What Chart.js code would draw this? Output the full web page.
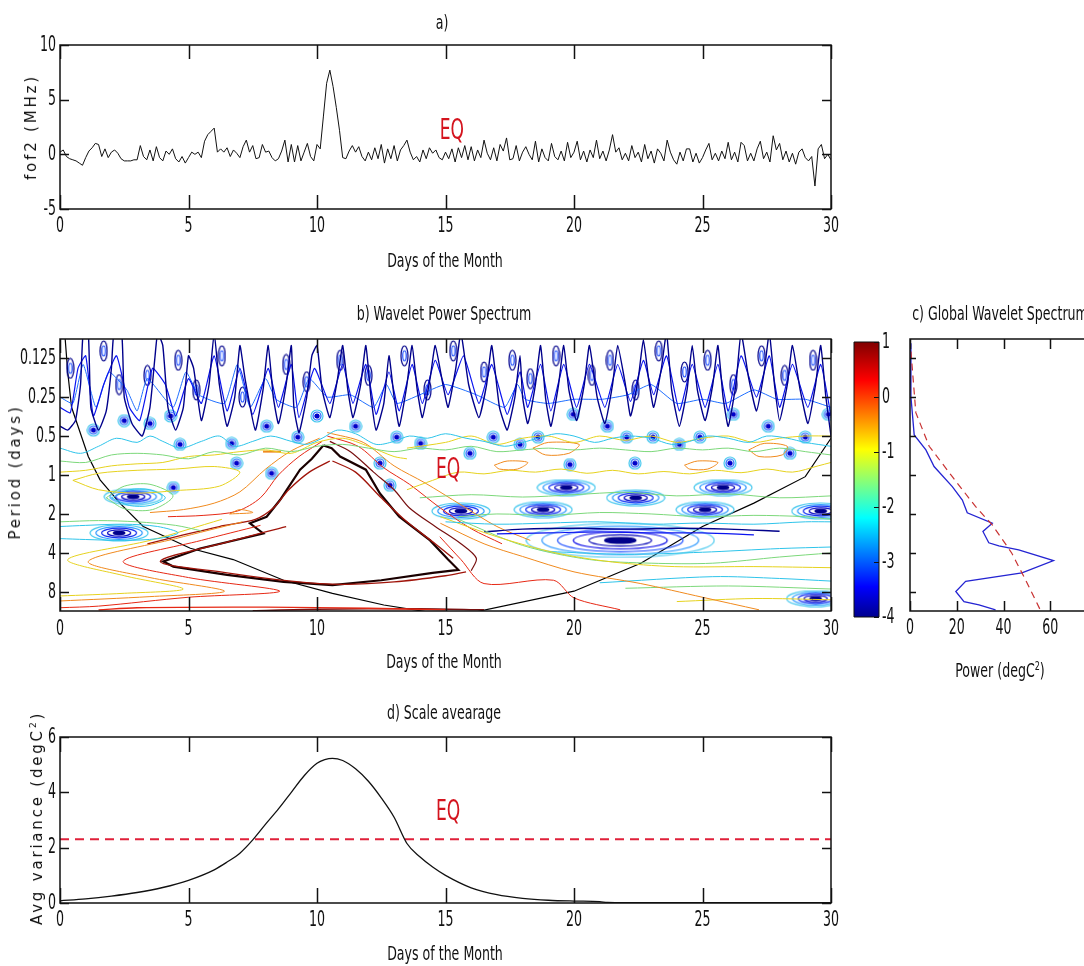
<!DOCTYPE html>
<html>
<head>
<meta charset="utf-8">
<script src="https://cdn.jsdelivr.net/npm/chart.js@4.4.1/dist/chart.umd.min.js"></script>
<style>
html, body { margin: 0; padding: 0; background: #fff; width: 1084px; height: 966px; overflow: hidden; position: relative; }
.box { position: absolute; }
.txt { position: absolute; white-space: nowrap; font-family: "Liberation Sans Narrow", "Arial Narrow", "DejaVu Sans Condensed", sans-serif; font-size: 14px; color: #111; transform: translate(-50%, -50%) scaleY(1.35); }
.ylab { position: absolute; white-space: nowrap; font-family: "DejaVu Sans", sans-serif; font-size: 15px; letter-spacing: 2.8px; color: #111; transform: translate(-50%, -50%) rotate(-90deg); }
sup { font-size: 9px; }
</style>
</head>
<body>
<div class="box" style="left:0px;top:0px"><canvas id="cA" width="870" height="280"></canvas></div>
<div class="box" style="left:0px;top:290px"><canvas id="cB" width="870" height="400"></canvas></div>
<div class="box" style="left:840px;top:330px"><canvas id="cBar" width="70" height="300"></canvas></div>
<div class="box" style="left:895px;top:290px"><canvas id="cC" width="220" height="400"></canvas></div>
<div class="box" style="left:0px;top:690px"><canvas id="cD" width="870" height="276"></canvas></div>

<div class="txt" style="left:442px;top:22px">a)</div>
<div class="txt" style="left:445px;top:260px">Days of the Month</div>
<div class="txt" style="left:444px;top:313px">b) Wavelet Power Spectrum</div>
<div class="txt" style="left:444px;top:661px">Days of the Month</div>
<div class="txt" style="left:1000px;top:313px">c) Global Wavelet Spectrum</div>
<div class="txt" style="left:1000px;top:670px">Power (degC<sup>2</sup>)</div>
<div class="txt" style="left:444px;top:712px">d) Scale avearage</div>
<div class="txt" style="left:445px;top:953px">Days of the Month</div>
<div class="ylab" style="left:31px;top:127px">fof2 (MHz)</div>
<div class="ylab" style="left:15px;top:472px">Period (days)</div>
<div class="ylab" style="left:37px;top:818px">Avg variance (degC<sup>2</sup>)</div>

<script>
// tick labels
const dayTicks = [0, 5, 10, 15, 20, 25, 30];
const fofTicks = [-5, 0, 5, 10];
const periodTicks = [0.125, 0.25, 0.5, 1, 2, 4, 8];
const powerTicks = [0, 20, 40, 60, 80];
const cbarTicks = [1, 0, -1, -2, -3, -4];
const avgTicks = [0, 2, 4, 6];

// a) fof2 deviation, one value every 3 hours (0.125 day)
const fofStep = 0.125;
const fof2 = [
  0.2, 0.4, -0.2, -0.4, -0.5, -0.6, -0.8, -1.0,
  -0.3, 0.3, 0.6, 1.0, 0.9, -0.2, 0.5, -0.3,
  0.2, 0.4, 0.1, -0.4, -0.6, -0.6, -0.6, -0.5,
  -0.5, 0.8, -0.2, -0.5, 0.4, -0.6, 0.7, -0.3,
  -0.6, 0.3, 0.0, 0.5, -0.4, -0.7, -0.2, -0.8,
  -0.3, 0.2, 0.0, 0.2, -0.3, 1.2, 1.8, 2.1,
  2.4, 0.2, 0.5, 0.2, 0.6, -0.2, 0.4, 0.1,
  -0.3, 0.7, 1.3, 0.2, 0.8, -0.4, -0.3, 0.9,
  0.2, 0.3, -0.3, -0.6, -0.4, 0.3, 1.3, -0.7,
  0.9, -0.7, 0.8, -0.6, 0.2, 1.0, -0.2, -0.6,
  0.9, 0.5, 3.5, 6.5, 7.7, 6.2, 4.3, 2.2,
  -0.3, -0.4, 0.3, 0.8, 0.2, 0.7, -0.2, -0.6,
  0.2, -0.5, 0.6, -0.4, 0.9, -0.8, 0.5, -0.4,
  0.8, -0.6, 0.4, 0.8, 1.3, 0.2, -0.5, -0.2,
  -0.7, 0.4, -0.4, 0.6, 0.1, 0.4, -0.3, -0.5,
  0.2, -0.4, 0.5, -0.7, 0.6, -0.3, 0.8, -0.5,
  0.7, -0.6, 0.4, -0.3, 1.3, 0.1, -0.5, 0.6,
  -0.6, 0.9, 0.3, 1.5, -0.5, -0.4, 0.8, -0.6,
  0.2, 0.7, 0.0, -0.5, 1.2, -0.7, 0.5, -0.3,
  -0.6, 1.0, -0.2, -0.5, 0.3, -0.6, 1.1, -0.3,
  0.2, 1.2, -0.5, 0.3, -0.7, 0.4, -0.3, 1.3,
  -0.4, 0.3, -0.6, 0.4, 1.8, 0.2, 0.6, -0.5,
  0.1, -0.6, 0.8, -0.3, 0.2, -0.7, 0.9, -0.4,
  0.3, -0.8, 0.5, 0.1, -0.6, 1.3, 0.2, -0.5,
  -0.9, 0.2, -0.6, 0.5, 0.5, -0.7, 0.1, -0.8,
  -0.3, 0.4, 1.0, -0.5, 0.1, -0.6, 0.3, -0.4,
  1.1, -0.5, 0.2, -0.7, 1.1, 0.8, -0.6, 0.1,
  -0.6, 0.5, 1.2, -0.4, 0.2, -0.7, 1.7, 0.4,
  1.0, -0.5, 0.3, -0.7, 0.1, -0.9, 0.2, 0.5,
  -0.3, -0.6, -0.2, -2.9, 0.5, 0.9, -0.4, 0.0,
  -0.5
];

// b) wavelet power contours, [day, period in days]
const navyFingers = [[0,0.42],[0.3,0.45],[0.6,0.38],[0.8,0.2],[0.9,0.08],[1.1,0.08],[1.2,0.3],[1.5,0.45],[1.8,0.32],[2.0,0.15],[2.1,0.08],[2.4,0.08],[2.5,0.25],[2.8,0.4],[3.2,0.5],[3.5,0.3],[3.7,0.12],[3.8,0.08],[4.0,0.1],[4.2,0.3],[4.5,0.45],[4.8,0.3],[5.0,0.12],[5.2,0.15],[5.5,0.38],[5.8,0.2],[6.0,0.08],[6.2,0.2],[6.5,0.42],[6.8,0.25],[7.0,0.1],[7.2,0.18],[7.6,0.45],[7.9,0.22],[8.1,0.1],[8.3,0.25],[8.5,0.4],[8.8,0.2],[9.0,0.1],[9.1,0.3],[9.3,0.47],[9.6,0.25],[9.8,0.12],[10.0,0.1],[10.2,0.22],[10.5,0.36],[10.8,0.18],[11.0,0.1],[11.2,0.22],[11.4,0.36],[11.7,0.2],[11.9,0.1],[12.1,0.25],[12.3,0.45],[12.6,0.28],[12.8,0.12],[13.0,0.25],[13.2,0.42],[13.5,0.2],[13.7,0.1],[13.9,0.22],[14.1,0.36],[14.4,0.18],[14.6,0.1],[14.9,0.2],[15.1,0.3],[15.4,0.15],[15.6,0.08],[15.9,0.2],[16.3,0.36],[16.6,0.2],[16.8,0.1],[17.1,0.3],[17.4,0.45],[17.7,0.25],[17.9,0.12],[18.0,0.25],[18.2,0.4],[18.5,0.2],[18.7,0.1],[18.9,0.26],[19.1,0.42],[19.4,0.2],[19.6,0.1],[19.8,0.22],[20.1,0.38],[20.4,0.2],[20.6,0.1],[20.9,0.25],[21.2,0.4],[21.5,0.2],[21.7,0.1],[22.0,0.2],[22.2,0.35],[22.5,0.18],[22.7,0.09],[22.9,0.18],[23.1,0.3],[23.4,0.15],[23.6,0.08],[23.8,0.22],[24.1,0.42],[24.4,0.22],[24.6,0.1],[24.8,0.22],[25.1,0.38],[25.4,0.2],[25.6,0.1],[25.8,0.25],[26.0,0.42],[26.3,0.2],[26.5,0.08],[26.8,0.18],[27.1,0.32],[27.4,0.16],[27.6,0.08],[27.8,0.2],[28.0,0.38],[28.3,0.2],[28.5,0.1],[28.8,0.22],[29.1,0.4],[29.4,0.2],[29.6,0.1],[29.8,0.25],[30,0.5]];
const blueFingers = [[0,0.3],[0.4,0.33],[0.7,0.15],[1.0,0.12],[1.3,0.35],[1.7,0.2],[2.2,0.12],[2.7,0.3],[3.1,0.38],[3.6,0.15],[4.1,0.2],[4.5,0.35],[5.0,0.18],[5.5,0.28],[6.0,0.12],[6.5,0.32],[7.0,0.15],[7.5,0.34],[8.1,0.15],[8.5,0.3],[9.0,0.14],[9.3,0.36],[9.9,0.15],[10.5,0.28],[11.0,0.14],[11.4,0.28],[11.9,0.14],[12.3,0.34],[12.8,0.16],[13.2,0.32],[13.7,0.14],[14.1,0.28],[14.6,0.13],[15.1,0.24],[15.7,0.12],[16.3,0.28],[16.8,0.14],[17.4,0.34],[17.9,0.16],[18.2,0.3],[18.7,0.14],[19.1,0.32],[19.6,0.14],[20.1,0.3],[20.6,0.14],[21.2,0.3],[21.7,0.14],[22.2,0.27],[22.7,0.13],[23.1,0.24],[23.6,0.12],[24.1,0.32],[24.6,0.14],[25.1,0.3],[25.6,0.14],[26.0,0.32],[26.5,0.12],[27.1,0.25],[27.6,0.12],[28.0,0.3],[28.5,0.14],[29.1,0.3],[29.6,0.14],[30,0.35]];
const midFingers = [[0,0.25],[0.5,0.28],[0.9,0.14],[1.4,0.3],[1.9,0.16],[2.6,0.22],[3.0,0.32],[3.4,0.18],[4.4,0.3],[4.9,0.16],[5.4,0.24],[6.4,0.28],[6.9,0.14],[7.4,0.3],[8.0,0.18],[8.4,0.26],[9.2,0.3],[9.7,0.18],[10.4,0.25],[11.3,0.24],[12.2,0.3],[12.7,0.2],[13.1,0.28],[14.0,0.24],[15.0,0.2],[16.2,0.24],[17.3,0.3],[17.8,0.2],[18.1,0.26],[19.0,0.28],[20.0,0.26],[21.1,0.26],[22.1,0.24],[23.0,0.2],[24.0,0.28],[25.0,0.26],[25.9,0.28],[27.0,0.22],[27.9,0.26],[29.0,0.26],[30,0.3]];
const cyanBand = [[0,0.62],[0.8,0.68],[1.5,0.6],[2.2,0.52],[3.0,0.56],[3.5,0.5],[4.0,0.55],[4.7,0.62],[5.5,0.55],[6.2,0.5],[6.8,0.6],[7.5,0.55],[8.2,0.5],[9.0,0.55],[9.6,0.58],[10.2,0.52],[10.8,0.45],[11.5,0.48],[12.3,0.58],[13.0,0.55],[13.6,0.5],[14.3,0.52],[15.0,0.48],[15.8,0.52],[16.5,0.55],[17.3,0.6],[18.0,0.56],[18.6,0.52],[19.3,0.48],[20.0,0.5],[20.8,0.56],[21.5,0.52],[22.2,0.5],[23.0,0.52],[23.8,0.58],[24.5,0.55],[25.2,0.5],[26.0,0.52],[26.8,0.56],[27.5,0.5],[28.3,0.52],[29.0,0.56],[30,0.6]];
const greenBand = [[0,0.78],[1.0,0.8],[2.0,0.7],[3.0,0.68],[4.0,0.7],[5.0,0.75],[6.0,0.66],[7.0,0.7],[8.0,0.62],[9.0,0.66],[10.0,0.6],[11.0,0.58],[12.0,0.62],[13.0,0.66],[14.0,0.62],[15.0,0.64],[16.0,0.6],[17.0,0.66],[18.0,0.64],[19.0,0.62],[20.0,0.64],[21.0,0.62],[22.0,0.64],[23.0,0.66],[24.0,0.62],[25.0,0.64],[26.0,0.62],[27.0,0.66],[28.0,0.62],[29.0,0.66],[30,0.7]];
const yellowUpper = [[0,0.95],[1,0.92],[2,0.85],[3,0.82],[4,0.8],[5,0.72],[6,0.7],[7,0.66],[8,0.64],[9,0.68],[10,0.56],[11,0.52],[12,0.6],[13,0.72],[13.5,0.75]];
const yellowRightA = [[13.5,0.62],[15,0.56],[16,0.5],[17,0.58],[18,0.52],[19,0.5],[20,0.56],[21,0.5],[22,0.54],[23,0.5],[24,0.56],[25,0.52],[26,0.5],[27,0.56],[28,0.52],[29,0.5],[30,0.5]];
const yellowRightB = [[13.5,1.3],[14.5,1.1],[15.5,0.95],[16.5,0.98],[17.5,0.92],[18.5,0.95],[19.5,0.9],[20.5,0.97],[21.5,0.92],[22.5,0.98],[23.5,0.94],[24.5,0.98],[25.5,0.92],[26.5,0.96],[27.5,0.9],[28.5,0.95],[29.5,0.85],[30,0.8]];
const greenRight = [[14,1.5],[16,1.42],[18,1.48],[20,1.42],[22,1.36],[24,1.45],[26,1.4],[28,1.5],[30,1.45]];
const greenRight2 = [[15.5,2.1],[17,2.0],[19,2.05],[21,1.95],[23,2.0],[25,2.1],[27,2.05],[29,2.1],[30,2.2]];
const cyanRight = [[15,2.3],[17,2.4],[19,2.35],[21,2.3],[23,2.4],[25,2.35],[27,2.4],[29,2.3],[30,2.3]];
const orangeLoop1 = [[18.4,0.62],[19.0,0.56],[20.2,0.58],[19.8,0.68],[18.9,0.7],[18.4,0.62]];
const orangeLoop2 = [[16.9,0.84],[17.4,0.78],[18.2,0.8],[17.8,0.9],[17.1,0.9],[16.9,0.84]];
const orangeLoop3 = [[24.3,0.84],[24.8,0.78],[25.6,0.8],[25.2,0.9],[24.5,0.9],[24.3,0.84]];
const orangeLoop4 = [[26.8,0.64],[27.4,0.57],[28.3,0.6],[28.1,0.7],[27.2,0.72],[26.8,0.64]];
const orangeDash = [[7.9,0.66],[8.6,0.66]];
const orangeTri = [[6.6,2.0],[7.0,1.85],[7.5,1.95],[6.6,2.0]];
const yellowLoopLeft = [[0.5,1.1],[1.5,0.97],[3,0.92],[4.5,0.9],[6,0.86],[7,0.95],[6.2,1.22],[4.5,1.32],[3,1.38],[1.5,1.3],[0.5,1.1]];
const greenLoopLeft = [[1.8,1.5],[2.5,1.22],[3.5,1.18],[4.4,1.45],[3.6,1.85],[2.5,1.82],[1.8,1.5]];
const cyanLoopLeft = [[2.0,1.5],[2.7,1.3],[3.5,1.3],[4.1,1.5],[3.5,1.72],[2.7,1.72],[2.0,1.5]];
const leftBandGreen = [[0,2.3],[1.5,2.25],[3,2.3],[4.5,2.45],[5.5,2.7]];
const leftBandCyan = [[0,2.5],[1,2.45],[2.5,2.4],[3.8,2.5],[4.6,2.8],[3.8,3.1],[2.5,3.2],[1,3.15],[0,3.1]];
const yellowV = [[6.3,2.2],[3.5,3.2],[0.3,4.5],[2.5,6.0],[4.8,7.6],[2.5,8.2],[0,8.6]];
const orangeV = [[7.1,2.3],[4.5,3.1],[1.1,4.65],[3.5,6.2],[6.4,7.9],[3.5,8.7],[0,9.4]];
const redV = [[7.8,2.45],[5.5,3.2],[2.46,4.65],[5,6.2],[8.55,7.9],[5,8.8],[1.5,10.3],[0,10.6]];
const darkRedV = [[8.8,2.5],[6.5,3.3],[3.9,4.65],[6.5,5.7],[9,6.6],[11,7.0],[13,6.7],[15,6.0],[15.8,5.6]];
const bottomRed = [[1.5,11],[3,10.6],[8,10.5],[12,10.7],[15,11]];
const bottomDarkRed = [[7.5,11.2],[10,10.9],[14,10.8],[16.5,11]];
const redRightLow = [[14.78,3.0],[15.6,4.5],[16.5,6.9],[19.2,6.5],[20,8.9],[21.8,11]];
const orangeRightLow = [[14.8,2.36],[16.5,3.4],[18,4.26],[20,5.6],[22.6,6.9],[25,8.8],[27.2,11]];
const yellowRightLow = [[14.8,2.1],[17,3.0],[19.3,4.0],[21.5,4.7],[23.9,5.1],[27,5.1],[30,5.2]];
const greenRightLow = [[15.5,2.2],[18,3.5],[20.6,4.5],[23,4.8],[25.4,4.8],[28,4.3],[30,4.0]];
const cyanRightLow = [[19,3.9],[22,4.1],[25,3.95],[28,3.7],[30,3.6]];
const cyanRightLow2 = [[21,6.8],[25.4,6.1],[28,6.3],[30,6.6]];
const greenLower2 = [[22,7.5],[26,7.2],[30,7.6]];
const yellowLower2 = [[24,9.5],[27,9.0],[30,9.2]];
const navyBand = [[16.5,2.75],[18,2.62],[20,2.58],[22,2.62],[24,2.58],[26,2.62],[28,2.72]];
const blueBand = [[17,2.85],[19,2.8],[21,2.75],[23,2.8],[25,2.8],[27,2.9]];
const orangeUpperLeft = [[10.1,0.52],[9.0,0.65],[8.0,0.9],[7.0,1.35],[6.0,1.65],[4.8,1.85],[3.5,1.95]];
const redUpperLeft = [[10.2,0.55],[9.3,0.72],[8.5,1.0],[7.8,1.5],[6.9,1.9],[5.6,2.05],[4.2,2.1]];
const orangeRight = [[10.4,0.47],[11.8,0.56],[13.0,0.85],[14.2,1.15],[15.6,1.7],[17,2.5],[18.3,3.2]];
const redRight = [[10.4,0.5],[11.6,0.6],[12.6,0.88],[13.6,1.18],[14.8,1.8],[16.0,2.6],[17.2,3.4]];
const brownRight = [[10.5,0.55],[11.3,0.66],[12.2,0.95],[13.0,1.3],[13.6,1.8],[14.6,2.5],[15.6,3.4],[16.2,4.4],[16.0,5.5]];
const darkRedInnerL = [[10.5,0.78],[9.7,0.95],[8.9,1.3],[8.3,1.8],[7.6,2.2],[6.2,2.5],[4.8,2.9],[3.4,3.4]];
const darkRedInnerR = [[10.6,0.78],[11.5,0.95],[12.5,1.5],[13.5,2.3],[14.6,3.4],[15.3,4.4]];
const blackBlob = [[10.25,0.59],[9.8,0.75],[9.34,0.91],[8.56,1.56],[8.04,2.1],[7.39,2.36],[7.91,2.83],[5.45,3.7],[4.02,4.65],[4.41,5.1],[6.5,5.9],[8.7,6.7],[10.6,7.1],[12.5,6.5],[14.5,5.7],[15.5,5.4],[15.1,4.5],[14.4,3.2],[13.2,2.1],[12.45,1.39],[11.9,0.91],[10.9,0.72],[10.57,0.62],[10.25,0.59]];
const coiLine = [[0.2,0.088],[0.3,0.16],[0.45,0.3],[1.1,0.72],[1.56,1.09],[2.33,1.65],[3.24,2.5],[5.07,3.68],[6.74,4.5],[8.7,6.5],[10.6,8.2],[12.6,10.1],[14.4,11.5],[16.1,11.5],[20,7.9],[22.6,4.8],[25,2.5],[27,1.65],[29,1.03],[30,0.52]];
const eyePts = [[1.3,0.45],[2.5,0.38],[3.5,0.40],[4.3,0.35],[4.67,0.58],[6.68,0.57],[8.04,0.42],[9.25,0.51],[10.0,0.35],[11.5,0.42],[13.1,0.51],[14.03,0.57],[16.86,0.51],[17.9,0.58],[18.6,0.51],[19.97,0.34],[21.3,0.42],[22.05,0.51],[23.07,0.51],[24.1,0.58],[24.9,0.51],[26.2,0.34],[27.56,0.42],[29.0,0.51],[29.9,0.34],[6.87,0.81],[8.23,0.97],[12.45,0.81],[12.84,1.2],[15.95,0.68],[28.4,0.68],[19.84,0.83],[22.37,0.81],[26.07,0.81],[4.41,1.25]];
const loopPts = [[0.4,0.15],[1.7,0.11],[2.3,0.2],[3.4,0.17],[4.6,0.13],[5.3,0.22],[6.3,0.12],[7.1,0.25],[8.8,0.14],[9.6,0.19],[10.9,0.13],[12.0,0.17],[13.4,0.12],[14.3,0.22],[15.3,0.11],[16.5,0.16],[17.6,0.13],[18.3,0.18],[19.3,0.12],[20.7,0.17],[21.4,0.13],[22.4,0.22],[23.3,0.11],[24.3,0.16],[25.2,0.13],[26.2,0.2],[27.3,0.12],[28.2,0.17],[29.3,0.13]];
const lensPts = [[2.85,1.47],[2.3,2.8],[15.6,1.9],[18.8,1.85],[19.7,1.25],[22.4,1.5],[25.1,1.85],[25.8,1.25],[29.6,1.9],[29.4,9.0]];
const bigLensPts = [[21.8,3.2]];

// c) global wavelet spectrum
const gwsPeriod = [0.096, 0.25, 0.49, 0.64, 0.86, 1.23, 1.56, 1.96, 2.36, 2.73, 3.34, 3.53, 3.78, 4.59, 5.70, 6.63, 7.94, 9.51, 10.06, 11.0];
const gwsPower = [0, 0.4, 1.8, 6.8, 10.3, 18.1, 22.4, 24.5, 35.2, 31.2, 33.7, 38, 46.5, 61.4, 47.9, 23.8, 19.6, 23.1, 29.5, 36.6];
const signifPeriod = [0.09, 0.33, 0.6, 1.03, 1.75, 2.43, 4.0, 6.45, 11.0];
const signifPower = [0, 2.5, 8.2, 18.1, 28, 35.2, 43.5, 49.4, 55.7];

// d) scale average
const scaleDays = [0, 1, 2, 3, 4, 5, 6, 6.5, 7, 7.5, 8, 8.5, 9, 9.5, 10, 10.3, 10.6, 11, 11.5, 12, 12.5, 13, 13.5, 14, 14.5, 15, 16, 17, 18, 19, 20, 21, 21.3, 22, 25, 30];
const scaleVals = [0.08, 0.15, 0.25, 0.38, 0.56, 0.82, 1.2, 1.48, 1.8, 2.28, 2.85, 3.4, 4.0, 4.6, 5.05, 5.18, 5.23, 5.15, 4.85, 4.4, 3.8, 3.1, 2.15, 1.67, 1.3, 1.0, 0.55, 0.3, 0.17, 0.1, 0.07, 0.05, 0.02, 0.01, 0.01, 0.01];
const scaleSignif = 2.3;

const FONT = '"Liberation Sans Narrow", "Arial Narrow", "DejaVu Sans Condensed", sans-serif';
const C = {
  navy: '#00008B', blue: '#0A14F0', midBlue: '#1E6EFF', cyan: '#2EC4EA', green: '#7CD87A', yellow: '#E6D21E',
  orange: '#F08A1E', red: '#E62814', darkRed: '#A0140A', brown: '#781010', black: '#000000'
};

function tallText(ctx, text, x, y, align, base, size, sy, color) {
  ctx.save();
  ctx.translate(x, y);
  ctx.scale(1, sy);
  ctx.font = size + 'px ' + FONT;
  ctx.fillStyle = color || '#111';
  ctx.textAlign = align;
  ctx.textBaseline = base;
  ctx.fillText(text, 0, 0);
  ctx.restore();
}

// matlab style box with inward ticks on every side
const matlabAxes = {
  id: 'matlabAxes',
  afterDatasetsDraw(chart, args, o) {
    const { ctx, chartArea: a, scales } = chart;
    const xs = scales.x, ys = scales.y;
    const ymap = o.yMap || (v => v);
    ctx.save();
    ctx.strokeStyle = '#111';
    ctx.lineWidth = o.lw || 1.5;
    ctx.beginPath();
    ctx.rect(a.left, a.top, a.right - a.left, a.bottom - a.top);
    (o.xTicks || []).forEach(v => {
      const px = Math.round(xs.getPixelForValue(v)) + 0.5;
      ctx.moveTo(px, a.bottom); ctx.lineTo(px, a.bottom - o.xLen);
      ctx.moveTo(px, a.top); ctx.lineTo(px, a.top + o.xLen);
    });
    (o.yTicks || []).forEach(v => {
      const py = Math.round(ys.getPixelForValue(ymap(v))) + 0.5;
      if (o.yLeft !== false) { ctx.moveTo(a.left, py); ctx.lineTo(a.left + o.yLen, py); }
      ctx.moveTo(a.right, py); ctx.lineTo(a.right - o.yLen, py);
    });
    ctx.stroke();
    if (o.xLabels) o.xTicks.forEach(v =>
      tallText(ctx, String(v), xs.getPixelForValue(v), a.bottom + o.xPad, 'center', 'top', 14, 1.55));
    if (o.yLabels === 'left') o.yTicks.forEach(v =>
      tallText(ctx, String(v), a.left - 4, ys.getPixelForValue(ymap(v)), 'right', 'middle', 14, 1.55));
    if (o.yLabels === 'right') o.yTicks.forEach(v =>
      tallText(ctx, String(v), a.right + 3, ys.getPixelForValue(ymap(v)), 'left', 'middle', 14, 1.55));
    ctx.restore();
  }
};

const eqMark = {
  id: 'eqMark',
  afterDatasetsDraw(chart, args, o) {
    if (!o.at) return;
    const x = chart.scales.x.getPixelForValue(o.at[0]);
    const y = chart.scales.y.getPixelForValue(o.at[1]);
    tallText(chart.ctx, 'EQ', x, y, 'center', 'middle', 19, 1.5, '#D4141E');
  }
};

Chart.register(matlabAxes, eqMark);

function lineSet(points, color, width, dash) {
  return {
    data: points, borderColor: color, borderWidth: width, borderDash: dash || [],
    pointRadius: 0, fill: false, tension: 0, clip: 0
  };
}
function pairsXY(pairs) {
  return pairs.map(([d, p]) => ({ x: d, y: Math.log2(p) }));
}
function contour(pairs, color, width, tension) {
  return Object.assign(lineSet(pairsXY(pairs), color, width || 1), { tension: tension === undefined ? 0.3 : tension });
}
function ringImage(w, h, cols, solidCentre) {
  const c = document.createElement('canvas');
  c.width = w; c.height = h;
  const g = c.getContext('2d');
  const n = cols.length;
  cols.forEach((col, i) => {
    const f = 1 - i / n;
    g.beginPath();
    g.ellipse(w / 2, h / 2, Math.max(1, (w / 2 - 1) * f), Math.max(1, (h / 2 - 1) * f), 0, 0, Math.PI * 2);
    g.strokeStyle = col;
    g.lineWidth = 1.2;
    g.stroke();
  });
  if (solidCentre !== false) {
    g.fillStyle = cols[n - 1];
    g.beginPath();
    g.ellipse(w / 2, h / 2, Math.max(1, w / (2 * n)), Math.max(1, h / (2 * n)), 0, 0, Math.PI * 2);
    g.fill();
  }
  return c;
}
function markSet(pairs, img) {
  return {
    data: pairsXY(pairs), showLine: false, pointStyle: img, pointRadius: 5,
    borderWidth: 0, clip: 0
  };
}
function baseOptions(pad, xr, yr, yRev, plugins) {
  return {
    animation: false, responsive: false, events: [],
    layout: { padding: pad },
    scales: {
      x: { type: 'linear', display: false, min: xr[0], max: xr[1] },
      y: { type: 'linear', display: false, min: yr[0], max: yr[1], reverse: !!yRev }
    },
    plugins: Object.assign({ legend: { display: false }, tooltip: { enabled: false } }, plugins)
  };
}

// a)
new Chart(document.getElementById('cA'), {
  type: 'line',
  data: {
    datasets: [lineSet(fof2.map((v, i) => ({ x: i * fofStep, y: v })), '#111', 1)]
  },
  options: baseOptions({ left: 60, top: 45, right: 39, bottom: 71 }, [0, 30], [-5, 10], false, {
    matlabAxes: { xTicks: dayTicks, xLen: 14, xLabels: true, xPad: 7, yTicks: fofTicks, yLen: 9, yLabels: 'left' },
    eqMark: { at: [15.25, 2.1] }
  })
});

// b)
const eyeImg = ringImage(14, 14, ['#46C8EE', '#1E64FF', '#0000C8']);
const loopImg = ringImage(9, 22, ['#00008B', '#1E50FF'], false);
const lensImg = ringImage(60, 18, ['#46C8EE', '#2896FF', '#0A28F0', '#0000C0', '#00008B']);
const bigLensImg = ringImage(190, 36, ['#46C8EE', '#2896FF', '#1E50FF', '#0000E6', '#0000B4', '#00008B']);

new Chart(document.getElementById('cB'), {
  type: 'line',
  data: {
    datasets: [
      contour(navyFingers, C.navy, 1.4, 0.15),
      contour(blueFingers, C.blue, 1.2, 0.15),
      contour(midFingers, C.midBlue, 1, 0.15),
      contour(cyanBand, C.cyan),
      contour(greenBand, C.green),
      contour(yellowUpper, C.yellow),
      contour(yellowRightA, C.yellow),
      contour(yellowRightB, C.yellow),
      contour(greenRight, C.green),
      contour(greenRight2, C.green),
      contour(cyanRight, C.cyan),
      contour(orangeLoop1, C.orange),
      contour(orangeLoop2, C.orange),
      contour(orangeLoop3, C.orange),
      contour(orangeLoop4, C.orange),
      contour(orangeDash, C.orange, 2),
      contour(orangeTri, C.orange),
      contour(yellowLoopLeft, C.yellow),
      contour(greenLoopLeft, C.green),
      contour(cyanLoopLeft, C.cyan),
      contour(leftBandGreen, C.green),
      contour(leftBandCyan, C.cyan),
      contour(yellowV, C.yellow),
      contour(orangeV, C.orange),
      contour(redV, C.red),
      contour(darkRedV, C.darkRed, 1.3),
      contour(bottomRed, C.red, 1.3),
      contour(bottomDarkRed, C.brown, 1.5),
      contour(redRightLow, C.red),
      contour(orangeRightLow, C.orange),
      contour(yellowRightLow, C.yellow),
      contour(greenRightLow, C.green),
      contour(cyanRightLow, C.cyan),
      contour(cyanRightLow2, C.cyan),
      contour(greenLower2, C.green),
      contour(yellowLower2, C.yellow),
      contour(navyBand, C.navy, 1.4),
      contour(blueBand, C.blue, 1.2),
      contour(orangeUpperLeft, C.orange),
      contour(redUpperLeft, C.red),
      contour(orangeRight, C.orange),
      contour(redRight, C.red),
      contour(brownRight, C.brown, 1.2),
      contour(darkRedInnerL, C.darkRed, 1.3),
      contour(darkRedInnerR, C.darkRed, 1.3),
      markSet(loopPts, loopImg),
      markSet(eyePts, eyeImg),
      markSet(lensPts, lensImg),
      markSet(bigLensPts, bigLensImg),
      lineSet(pairsXY(blackBlob), '#1A0000', 2.2),
      lineSet(pairsXY(coiLine), C.black, 1.2)
    ]
  },
  options: baseOptions({ left: 60, top: 49, right: 39, bottom: 79 }, [0, 30], [-3.49, 3.49], true, {
    matlabAxes: { xTicks: dayTicks, xLen: 14, xLabels: true, xPad: 8, yTicks: periodTicks, yMap: Math.log2, yLen: 9, yLabels: 'left' },
    eqMark: { at: [15.1, Math.log2(0.93)] }
  })
});

// colour bar
new Chart(document.getElementById('cBar'), {
  type: 'bar',
  data: {
    labels: ['power'],
    datasets: [{
      data: [[-4, 1]],
      barPercentage: 1, categoryPercentage: 1, borderWidth: 0,
      backgroundColor: c => {
        const a = c.chart.chartArea;
        if (!a) return '#000080';
        const g = c.chart.ctx.createLinearGradient(0, a.bottom, 0, a.top);
        g.addColorStop(0, '#00008F');
        g.addColorStop(0.11, '#0000FF');
        g.addColorStop(0.36, '#00FFFF');
        g.addColorStop(0.61, '#FFFF00');
        g.addColorStop(0.86, '#FF0000');
        g.addColorStop(1, '#800000');
        return g;
      }
    }]
  },
  options: {
    animation: false, responsive: false, events: [],
    layout: { padding: { left: 14, top: 12, right: 31, bottom: 13 } },
    scales: {
      x: { type: 'category', display: false },
      y: { type: 'linear', display: false, min: -4, max: 1 }
    },
    plugins: {
      legend: { display: false }, tooltip: { enabled: false },
      matlabAxes: { yTicks: cbarTicks, yLen: 5, yLeft: false, yLabels: 'right', lw: 1 }
    }
  }
});

// c)
new Chart(document.getElementById('cC'), {
  type: 'line',
  data: {
    datasets: [
      lineSet(signifPower.map((v, i) => ({ x: v, y: Math.log2(signifPeriod[i]) })), '#C83232', 1.2, [7, 5]),
      lineSet(gwsPower.map((v, i) => ({ x: v, y: Math.log2(gwsPeriod[i]) })), '#2424D2', 1.3)
    ]
  },
  options: baseOptions({ left: 15, top: 49, right: 18, bottom: 79 }, [0, 80], [-3.49, 3.49], true, {
    matlabAxes: { xTicks: powerTicks, xLen: 10, xLabels: true, xPad: 7, yTicks: periodTicks, yMap: Math.log2, yLen: 6 }
  })
});

// d)
new Chart(document.getElementById('cD'), {
  type: 'line',
  data: {
    datasets: [
      Object.assign(lineSet(scaleDays.map((d, i) => ({ x: d, y: scaleVals[i] })), '#111', 1.3), { cubicInterpolationMode: 'monotone' }),
      lineSet([{ x: 0, y: scaleSignif }, { x: 30, y: scaleSignif }], '#E0203A', 2, [9, 6])
    ]
  },
  options: baseOptions({ left: 60, top: 47, right: 39, bottom: 63 }, [0, 30], [0, 6], false, {
    matlabAxes: { xTicks: dayTicks, xLen: 15, xLabels: true, xPad: 7, yTicks: avgTicks, yLen: 9, yLabels: 'left' },
    eqMark: { at: [15.1, 3.25] }
  })
});
</script>
</body>
</html>
